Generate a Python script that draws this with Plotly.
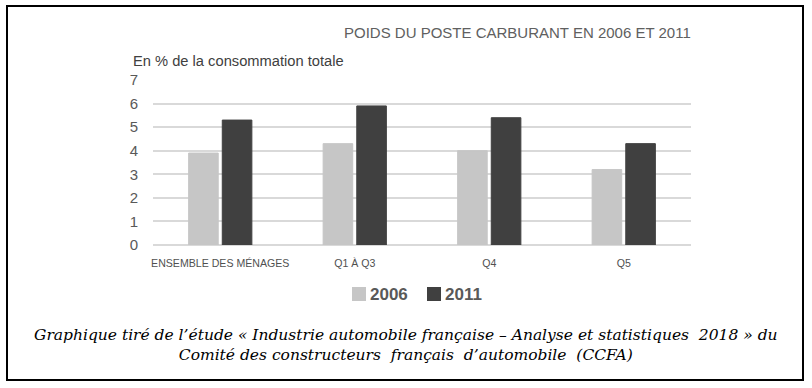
import plotly.graph_objects as go

categories = ["ENSEMBLE DES MÉNAGES", "Q1 À Q3", "Q4", "Q5"]
values_2006 = [3.9, 4.3, 4.0, 3.2]
values_2011 = [5.3, 5.9, 5.4, 4.3]
y_ticks = [0, 1, 2, 3, 4, 5, 6, 7]
series_names = ["2006", "2011"]
series_colors = ["#c6c6c6", "#404040"]

title_text = "POIDS DU POSTE CARBURANT EN 2006 ET 2011"
ylabel_text = "En % de la consommation totale"
caption_text = ("Graphique tiré de l’étude « Industrie automobile française – Analyse et statistiques  2018 » du<br>"
                "Comité des constructeurs  français  d’automobile  (CCFA)")

SANS = "Liberation Sans, Arial, sans-serif"

fig = go.Figure()
for name, vals, col in zip(series_names, [values_2006, values_2011], series_colors):
    fig.add_trace(go.Bar(x=categories, y=vals, name=name, showlegend=False,
                         marker=dict(color=col, line=dict(color=col, width=1))))

W, T, B = 538, 80, 245
H = B - T
L = 153

def px(x):
    return (x - L) / W

def py(y):
    return (B - y) / H

fig.update_layout(
    width=812, height=388,
    margin=dict(l=L, r=812 - L - W, t=T, b=388 - B, pad=0),
    paper_bgcolor="white", plot_bgcolor="white",
    barmode="group", bargap=0.5, bargroupgap=0.12,
    showlegend=False,
    xaxis=dict(tickfont=dict(family=SANS, size=10.6, color="#505050"), showgrid=False,
               showline=False, ticks="", ticklabelstandoff=10),
    yaxis=dict(range=[0, 7], tickvals=y_ticks, showgrid=True, gridcolor="#d9d9d9", gridwidth=2,
               zeroline=True, zerolinecolor="#d9d9d9", zerolinewidth=2, showline=False,
               ticks="", tickfont=dict(family=SANS, size=15, color="#595959"),
               ticklabelstandoff=14),
    font=dict(family=SANS),
)

# outer frame
fig.add_shape(type="rect", xref="paper", yref="paper",
              x0=px(7), x1=px(803), y0=py(380), y1=py(6),
              line=dict(color="black", width=2), fillcolor="rgba(0,0,0,0)", layer="above")

# legend (drawn manually to match the tight symbol/text spacing)
legend_items = [(352, series_names[0], series_colors[0]), (427, series_names[1], series_colors[1])]
for x0, name, col in legend_items:
    fig.add_shape(type="rect", xref="paper", yref="paper",
                  x0=px(x0), x1=px(x0 + 14), y0=py(301), y1=py(287),
                  line=dict(width=0), fillcolor=col)
    fig.add_annotation(text=name, xref="paper", yref="paper", x=px(x0 + 16), y=py(294.5),
                       xanchor="left", yanchor="middle", showarrow=False,
                       font=dict(family=SANS, size=17, color="#595959", weight="bold"))

fig.add_annotation(text=title_text, xref="paper", yref="paper", x=px(693), y=py(33),
                   xanchor="right", yanchor="middle", showarrow=False,
                   font=dict(family=SANS, size=15, color="#606060"))
fig.add_annotation(text=ylabel_text, xref="paper", yref="paper", x=px(131), y=py(61),
                   xanchor="left", yanchor="middle", showarrow=False,
                   font=dict(family=SANS, size=14.7, color="#404040"))
fig.add_annotation(text=caption_text, xref="paper", yref="paper", x=px(406), y=py(345),
                   xanchor="center", yanchor="middle", showarrow=False, align="center",
                   font=dict(family="DejaVu Serif, Liberation Serif, serif", size=15.5, color="black", style="italic"))

fig.write_html("out.html", config={"displayModeBar": False},
               post_script="document.body.style.margin='0';")
